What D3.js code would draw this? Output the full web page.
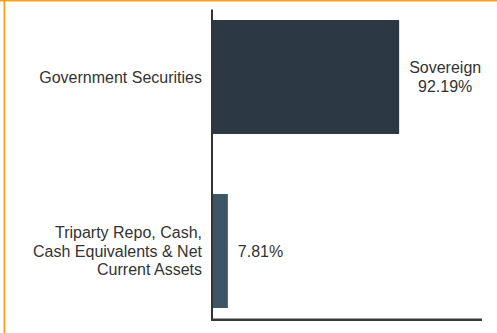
<!DOCTYPE html>
<html><head><meta charset="utf-8">
<script src="https://cdn.jsdelivr.net/npm/d3@7"></script>
<style>html,body{margin:0;padding:0;background:#fff;}svg{display:block;}</style>
</head><body>
<svg id="chart" width="497" height="333"></svg>
<script>
const categories = [["Government Securities"], ["Triparty Repo, Cash,", "Cash Equivalents & Net", "Current Assets"]];
const valueLabels = [["Sovereign", "92.19%"], ["7.81%"]];
const values = [92.19, 7.81];
const colors = ["#2c3944", "#3d5565"];

const svg = d3.select("#chart");
const font = "'Liberation Sans', Arial, Helvetica, sans-serif";

// orange frame (top and left edges visible)
svg.append("rect").attr("x", 0).attr("y", 0).attr("width", 497).attr("height", 1.5).attr("fill", "#f6a21d");
svg.append("rect").attr("x", 3.5).attr("y", 0).attr("width", 1.8).attr("height", 333).attr("fill", "#f6a21d");

const x0 = 212;
const x = d3.scaleLinear().domain([0, 100]).range([x0, x0 + 203]);
const y = d3.scaleBand().domain(d3.range(values.length)).range([20, 308]).paddingInner(0.345).paddingOuter(0);

svg.selectAll("rect.bar").data(values).join("rect").attr("class", "bar")
  .attr("x", x(0)).attr("y", (d, i) => y(i))
  .attr("width", d => x(d) - x(0)).attr("height", y.bandwidth())
  .attr("fill", (d, i) => colors[i]);

// axes lines
svg.append("line").attr("x1", x0).attr("x2", x0).attr("y1", 9.5).attr("y2", 321)
  .attr("stroke", "#333").attr("stroke-width", 2);
svg.append("line").attr("x1", x0 - 1).attr("x2", 482).attr("y1", 319.8).attr("y2", 319.8)
  .attr("stroke", "#3a3a3a").attr("stroke-width", 2.4);

const lh = 18.4;
// category labels
categories.forEach((lines, i) => {
  const cy = y(i) + y.bandwidth() / 2;
  const t = svg.append("text").attr("text-anchor", "end").attr("font-family", font)
    .attr("font-size", 16).attr("fill", "#333");
  lines.forEach((ln, j) => {
    t.append("tspan").attr("x", x0 - 10)
      .attr("y", cy + (j - (lines.length - 1) / 2) * lh + 5.7).text(ln);
  });
});

// value labels
valueLabels.forEach((lines, i) => {
  const cy = y(i) + y.bandwidth() / 2;
  const g = svg.append("g");
  const t = g.append("text").attr("text-anchor", "middle").attr("font-family", font)
    .attr("font-size", 16).attr("fill", "#333");
  const tsp = lines.map((ln, j) => t.append("tspan")
    .attr("y", cy + (j - (lines.length - 1) / 2) * lh + 5.7).text(ln));
  const w = d3.max(tsp, s => s.node().getComputedTextLength());
  const cx = x(values[i]) + 10 + w / 2;
  tsp.forEach(s => s.attr("x", cx));
});
</script>
</body></html>
